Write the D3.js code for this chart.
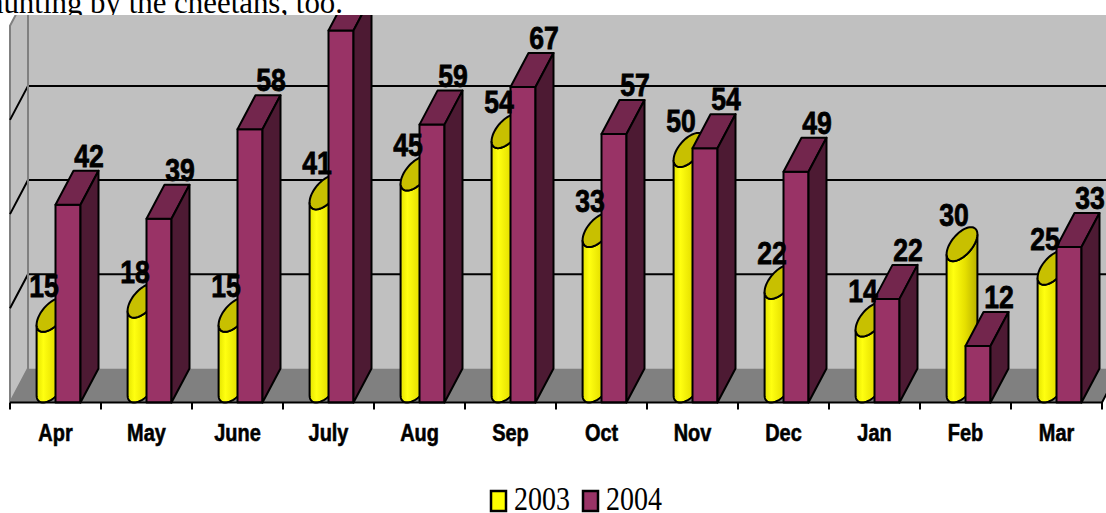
<!DOCTYPE html>
<html>
<head>
<meta charset="utf-8">
<script src="https://cdn.jsdelivr.net/npm/d3@7"></script>
<style>
  body { margin: 0; background: #fff; }
  svg { display: block; }
</style>
</head>
<body>
<div id="chart"></div>
<script>
// chart data
var months = ["Apr", "May", "June", "July", "Aug", "Sep", "Oct", "Nov", "Dec", "Jan", "Feb", "Mar"];
var series = ["2003", "2004"];
var values2003 = [15, 18, 15, 41, 45, 54, 33, 50, 22, 14, 30, 25];
var values2004 = [42, 39, 58, 79, 59, 67, 57, 54, 49, 22, 12, 33];
var gridValues = [20, 40, 60];
var yMax = 80;
var captionText = "hunting by the cheetahs, too.";

var svgWidth = 1106;
var svgHeight = 513;
var baseY = 402.5;
var topClip = 15;
var depthX = 18;
var depthY = 34;

var svg = d3.select("#chart")
    .append("svg")
    .attr("width", svgWidth)
    .attr("height", svgHeight);

// line of document text peeking above the picture
svg.append("text")
    .attr("x", -12)
    .attr("y", 13)
    .attr("textLength", 355)
    .attr("lengthAdjust", "spacingAndGlyphs")
    .style("font-family", "'Liberation Serif', 'Times New Roman', serif")
    .style("font-size", "31px")
    .text(captionText);

var defs = svg.append("defs");
defs.append("clipPath").attr("id", "plotClip")
    .append("rect")
    .attr("x", 0).attr("y", topClip)
    .attr("width", svgWidth).attr("height", svgHeight - topClip);

var grad = defs.append("linearGradient").attr("id", "cylBody")
    .attr("x1", "0%").attr("x2", "100%").attr("y1", "0%").attr("y2", "0%");
grad.append("stop").attr("offset", "0%").attr("stop-color", "#e4e400");
grad.append("stop").attr("offset", "22%").attr("stop-color", "#ffff10");
grad.append("stop").attr("offset", "60%").attr("stop-color", "#e6e000");
grad.append("stop").attr("offset", "100%").attr("stop-color", "#b8b000");

// scales
var xScale = d3.scaleBand().domain(months).range([10, 1102]).paddingInner(0).paddingOuter(0);
var seriesScale = d3.scaleBand().domain(series).range([0, xScale.bandwidth()])
    .paddingInner(0).paddingOuter(0.82);
var yScale = d3.scaleLinear().domain([0, yMax]).range([baseY, baseY - yMax * 4.71]);
var backY = function(v) { return yScale(v) - depthY; };

var left = xScale.range()[0];
var right = xScale.range()[1];

var chart = svg.append("g").attr("clip-path", "url(#plotClip)");

// walls and floor
chart.append("rect")
    .attr("x", left + depthX).attr("y", backY(yMax))
    .attr("width", svgWidth).attr("height", backY(0) - backY(yMax))
    .attr("fill", "#c0c0c0");

chart.append("polygon")
    .attr("points", [[left, yScale(0)], [left, yScale(yMax)], [left + depthX, backY(yMax)], [left + depthX, backY(0)]].join(" "))
    .attr("fill", "#c0c0c0")
    .attr("stroke", "#808080")
    .attr("stroke-width", 2);

chart.append("polygon")
    .attr("points", [[left, yScale(0)], [left + depthX, backY(0)], [right + depthX, backY(0)], [right, yScale(0)]].join(" "))
    .attr("fill", "#808080");

// gridlines on side wall and back wall
chart.selectAll(".grid")
    .data(gridValues)
    .enter()
    .append("path")
    .attr("class", "grid")
    .attr("d", d => `M${left},${yScale(d)}L${left + depthX},${backY(d)}L${svgWidth + 30},${backY(d)}`)
    .attr("fill", "none")
    .attr("stroke", "#000")
    .attr("stroke-width", 2);

chart.append("line")
    .attr("x1", left + depthX).attr("x2", left + depthX)
    .attr("y1", backY(yMax)).attr("y2", backY(0))
    .attr("stroke", "#808080").attr("stroke-width", 2);

// cylinder helper
var barW = seriesScale.bandwidth();
var rx = barW / 2, ex = depthX / 2, ey = depthY / 2;
var tTan = Math.atan2(ex, rx);
var line = d3.line();

function ellipsePts(cx, cy, t0, t1, n) {
    var pts = [];
    for (var j = 0; j <= n; j++) {
        var t = t0 + (t1 - t0) * j / n;
        pts.push([cx + rx * Math.cos(t) + ex * Math.sin(t), cy - ey * Math.sin(t)]);
    }
    return pts;
}

months.forEach(function(m, i) {
    // 2003 cylinder
    var xc = xScale(m) + seriesScale("2003") + rx + ex;
    var yb = yScale(0) - ey;
    var yt = yScale(values2003[i]) - ey;
    var body = ellipsePts(xc, yb, tTan + Math.PI, tTan + 2 * Math.PI, 40)
        .concat(ellipsePts(xc, yt, tTan + 2 * Math.PI, tTan + Math.PI, 40));
    chart.append("path")
        .attr("d", line(body) + "Z")
        .attr("fill", "url(#cylBody)")
        .attr("stroke", "#000")
        .attr("stroke-width", 2);
    chart.append("path")
        .attr("d", line(ellipsePts(xc, yt, 0, 2 * Math.PI, 60)) + "Z")
        .attr("fill", "#c8c000")
        .attr("stroke", "#000")
        .attr("stroke-width", 2);

    // 2004 box
    var x0 = xScale(m) + seriesScale("2004");
    var x1 = x0 + barW;
    var ty = yScale(values2004[i]);
    var by = yScale(0);
    var faces = [
        { pts: [[x0, ty], [x1, ty], [x1, by], [x0, by]], fill: "#993366" },
        { pts: [[x0, ty], [x0 + depthX, ty - depthY], [x1 + depthX, ty - depthY], [x1, ty]], fill: "#73264d" },
        { pts: [[x1, ty], [x1 + depthX, ty - depthY], [x1 + depthX, by - depthY], [x1, by]], fill: "#4d1a33" }
    ];
    faces.forEach(function(f) {
        chart.append("polygon")
            .attr("points", f.pts.join(" "))
            .attr("fill", f.fill)
            .attr("stroke", "#000")
            .attr("stroke-width", 2)
            .attr("stroke-linejoin", "round");
    });
});

// front edge of floor and ticks
chart.append("path")
    .attr("d", `M${left},${yScale(0)}L${right},${yScale(0)}L${right + depthX},${backY(0)}`)
    .attr("fill", "none")
    .attr("stroke", "#000")
    .attr("stroke-width", 2);

var tickXs = months.map(m => xScale(m)).concat([right]);
svg.selectAll(".tickMark")
    .data(tickXs)
    .enter()
    .append("line")
    .attr("class", "tickMark")
    .attr("x1", d => d).attr("x2", d => d)
    .attr("y1", yScale(0)).attr("y2", yScale(0) + 7)
    .attr("stroke", "#000")
    .attr("stroke-width", 2);

// value labels
var labelFont = "'Liberation Sans', Arial, sans-serif";
var labels = [];
months.forEach(function(m, i) {
    labels.push({ x: xScale(m) + seriesScale("2003") + rx + 1, y: yScale(values2003[i]) - 35, v: values2003[i] });
    labels.push({ x: xScale(m) + seriesScale("2004") + rx + depthX + 3, y: yScale(values2004[i]) - 38, v: values2004[i] });
});
chart.selectAll(".valLabel")
    .data(labels)
    .enter()
    .append("text")
    .attr("class", "valLabel")
    .attr("transform", d => `translate(${d.x},${d.y}) scale(0.95,1.15)`)
    .attr("text-anchor", "middle")
    .attr("stroke", "#000")
    .attr("stroke-width", 0.7)
    .style("font-family", labelFont)
    .style("font-weight", "bold")
    .style("font-size", "28px")
    .text(d => d.v);

// category axis labels
var axisG = svg.append("g")
    .call(d3.axisBottom(xScale).tickSize(0).tickPadding(0));
axisG.select(".domain").remove();
axisG.selectAll("text")
    .attr("y", null)
    .attr("dy", null)
    .attr("transform", "translate(0,441) scale(0.95,1.15)")
    .attr("fill", "#000")
    .attr("stroke", "#000")
    .attr("stroke-width", 0.5)
    .style("font-family", labelFont)
    .style("font-weight", "bold")
    .style("font-size", "21px");

// legend
var legendColors = ["#ffff00", "#993366"];
var legendX = [491, 583];
var legend = svg.selectAll(".legendItem")
    .data(series)
    .enter()
    .append("g")
    .attr("class", "legendItem")
    .attr("transform", (d, i) => `translate(${legendX[i]},491)`);
legend.append("rect")
    .attr("width", 15).attr("height", 20)
    .attr("fill", (d, i) => legendColors[i])
    .attr("stroke", "#000")
    .attr("stroke-width", 2.5);
legend.append("text")
    .attr("transform", "translate(23,19) scale(1,1.2)")
    .style("font-family", "'Liberation Serif', 'Times New Roman', serif")
    .style("font-size", "28px")
    .text(d => d);
</script>
</body>
</html>
